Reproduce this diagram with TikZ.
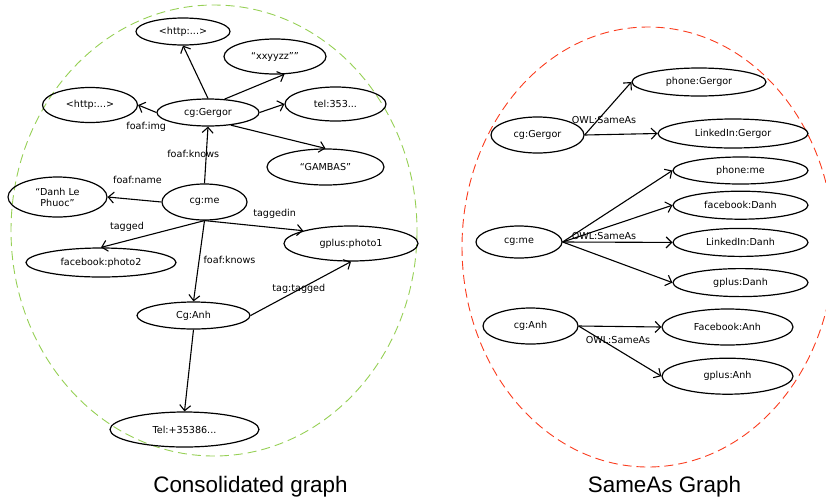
\documentclass[tikz,border=0pt]{standalone}
\usepackage{fontspec}
\setmainfont{DejaVu Sans}
\newfontfamily\titlefont{Liberation Sans}
\usetikzlibrary{positioning, shapes.geometric, arrows.meta}
\definecolor{grpgreen}{RGB}{150,208,85}
\definecolor{grpred}{RGB}{250,60,30}

\begin{document}
\begin{tikzpicture}[x=1pt, y=-1pt,
		ent/.style={draw, ellipse, line width=1.2pt, inner sep=0pt, font=\fontsize{9.6}{11}\selectfont},
		lbl/.style={inner sep=0pt, font=\fontsize{9.6}{11}\selectfont},
		arr/.style={-{Straight Barb[length=5.5pt, width=11pt]}, line width=1.1pt},
		grp/.style={dash pattern=on 9pt off 5pt, line width=0.9pt},
		ttl/.style={inner sep=0pt, anchor=base, font=\titlefont\fontsize{22.4}{26}\selectfont}]
			\useasboundingbox (0,0) rectangle (826,499);
			\clip (0,0) rectangle (826,499);
			\draw[grp, grpgreen] (214,230.5) ellipse [x radius=203, y radius=225.5];
			\draw[grp, grpred] (648,247) ellipse [x radius=186, y radius=220];

			\node[ent, minimum width=94pt, minimum height=27pt]   (hta)  at (183,31.5)  {<http:...>};
			\node[ent, minimum width=102pt, minimum height=35pt]  (xyz)  at (275,56.5)  {“xxyyzz””};
			\node[ent, minimum width=95pt, minimum height=35pt]   (htl)  at (90,105)    {<http:...>};
			\node[ent, minimum width=102pt, minimum height=27pt]  (gg)   at (208,112.5) {cg:Gergor};
			\node[ent, minimum width=101pt, minimum height=34pt]  (tel)  at (335.5,104) {tel:353...};
			\node[ent, minimum width=117pt, minimum height=36pt]  (gam)  at (325.5,167) {“GAMBAS”};
			\node[ent, minimum width=99pt, minimum height=40pt, align=center] (danh) at (57.5,197) {“Danh Le\\Phuoc”};
			\node[ent, minimum width=85pt, minimum height=36pt]   (me)   at (204.5,202) {cg:me};
			\node[ent, minimum width=134pt, minimum height=35pt]  (gp1)  at (351,243.5) {gplus:photo1};
			\node[ent, minimum width=150pt, minimum height=29pt]  (fb2)  at (101,262.5) {facebook:photo2};
			\node[ent, minimum width=113pt, minimum height=27pt]  (anh)  at (193.5,315.5) {Cg:Anh};
			\node[ent, minimum width=149pt, minimum height=35pt]  (tel2) at (184.5,429.5) {Tel:+35386...};

			\draw[arr] (gg.north) -- (hta.south);
			\draw[arr] (gg.39) -- (xyz.-62);
			\draw[arr] (gg.west) -- node[lbl, xshift=-1pt, yshift=-17.75pt] {foaf:img} (htl.east);
			\draw[arr] (gg.east) -- (tel.west);
			\draw[arr] (gg.-29) -- (gam.north);
			\draw[arr] (me.north) -- node[lbl, xshift=-13pt, yshift=1.5pt] {foaf:knows} (gg.south);
			\draw[arr] (me.west) -- node[lbl, xshift=3pt, yshift=19.5pt] {foaf:name} (danh.east);
			\draw[arr] (me.south) -- node[lbl, xshift=-25.75pt, yshift=7pt] {tagged} (fb2.north);
			\draw[arr] (me.south) -- node[lbl, xshift=20.75pt, yshift=12pt] {taggedin} (gp1.165);
			\draw[arr] (me.south) -- node[lbl, xshift=30.5pt, yshift=1.5pt] {foaf:knows} (anh.north);
			\draw[arr] (anh.east) -- node[lbl, xshift=-2pt] {tag:tagged} (gp1.south);
			\draw[arr] (anh.south) -- (tel2.north);

			\node[ent, minimum width=93pt, minimum height=36pt]   (gg2)  at (537.5,135) {cg:Gergor};
			\node[ent, minimum width=134pt, minimum height=28pt]  (pg)   at (699,82)    {phone:Gergor};
			\node[ent, minimum width=150pt, minimum height=29pt]  (lg)   at (733,133.5) {LinkedIn:Gergor};
			\node[ent, minimum width=86pt, minimum height=32pt]   (me2)  at (519,242)   {cg:me};
			\node[ent, minimum width=135pt, minimum height=27pt]  (pm)   at (740.5,170.5) {phone:me};
			\node[ent, minimum width=135pt, minimum height=28pt, below=6pt of pm]  (fd) {facebook:Danh};
			\node[ent, minimum width=135pt, minimum height=28pt, below=8pt of fd]  (ld) {LinkedIn:Danh};
			\node[ent, minimum width=135pt, minimum height=28pt, below=11pt of ld] (gd) {gplus:Danh};
			\node[ent, minimum width=95pt, minimum height=36pt]   (anh2) at (530.5,326) {cg:Anh};
			\node[ent, minimum width=131pt, minimum height=36pt]  (fa)   at (727.5,327) {Facebook:Anh};
			\node[ent, minimum width=131pt, minimum height=36pt, below=12pt of fa] (ga) {gplus:Anh};

			\draw[arr] (gg2.east) -- node[lbl, xshift=-4pt, yshift=-11.5pt] {OWL:SameAs} (pg.west);
			\draw[arr] (gg2.east) -- (lg.west);
			\draw[arr] (me2.east) -- (pm.west);
			\draw[arr] (me2.east) -- (fd.west);
			\draw[arr] (me2.east) -- node[lbl, xshift=-13.5pt, yshift=6pt] {OWL:SameAs} (ld.west);
			\draw[arr] (me2.east) -- (gd.west);
			\draw[arr] (anh2.east) -- (fa.west);
			\draw[arr] (anh2.east) -- node[lbl, xshift=-2pt, yshift=11pt] {OWL:SameAs} (ga.west);

			\node[ttl] (cons) at (250.5,492) {Consolidated graph};
			\node[ttl] (same) at (664.5,492) {SameAs Graph};
		\end{tikzpicture}
\end{document}
